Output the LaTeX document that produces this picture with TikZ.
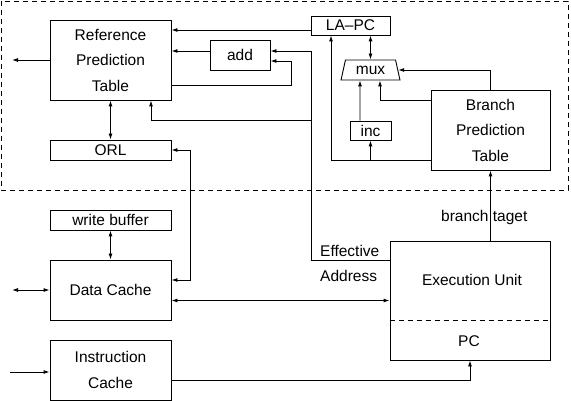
\documentclass[tikz,border=0pt]{standalone}
\usepackage{fontspec}
\setmainfont{Liberation Sans}
\usetikzlibrary{arrows.meta,shapes.geometric,calc}
\tikzset{
  box/.style={draw,line width=0.9pt,inner sep=0pt,align=center,font=\fontsize{15.5}{25.5}\selectfont},
  lbl/.style={inner sep=0pt,font=\fontsize{15.5}{25.5}\selectfont},
  wire/.style={line width=0.9pt},
  arr/.style={wire,-{Latex[length=6pt,width=4pt]}},
  arrr/.style={wire,{Latex[length=6pt,width=4pt]}-{Latex[length=6pt,width=4pt]}},
  dsh/.style={wire,dash pattern=on 5pt off 4pt},
}
\begin{document}
\begin{tikzpicture}[x=1pt,y=-1pt]
\useasboundingbox (0,0) rectangle (571,401);
% dashed region
\draw[dsh] (1,1) rectangle (568,190);
% boxes
\node[box,minimum width=121,minimum height=80] (rpt) at (110.5,60) {Reference\\Prediction\\Table};
\node[box,minimum width=60,minimum height=30] (add) at (240,55) {add};
\node[box,minimum width=79,minimum height=19] (la) at (350.5,25.5) {LA--PC};
\node[box,trapezium,trapezium stretches=true,trapezium left angle=73,trapezium right angle=73,minimum width=59,minimum height=20] (mux) at (370.5,70) {mux};
\node[box,minimum width=41,minimum height=19] (inc) at (370.5,130.5) {inc};
\node[box,minimum width=119,minimum height=80] (bpt) at (490.5,130) {Branch\\Prediction\\Table};
\node[box,minimum width=121,minimum height=20] (orl) at (110.5,150) {ORL};
\node[box,minimum width=121,minimum height=20] (wb) at (110.5,220) {write buffer};
\node[box,minimum width=121,minimum height=60] (dc) at (110.5,290) {Data Cache};
\node[box,minimum width=121,minimum height=60] (ic) at (110.5,370) {Instruction\\Cache};
\node[box,minimum width=160,minimum height=119] (eu) at (470,300.5) {};
\node[lbl] (eut) at (472,280) {Execution Unit};
\node[lbl] (pc) at (469,341) {PC};
\draw[dsh] (eu.west |- 0,320) -- (eu.east |- 0,320);
\node[lbl,anchor=west] (eff) at (320,251) {Effective};
\node[lbl,anchor=west] (addr) at (320,276) {Address};
\node[lbl,anchor=west] (bt) at (441,217) {branch taget};
% connectors
\coordinate (outL) at (12,60);
\draw[arr] (rpt.west) -- (outL);
\draw[arr] (la.west |- 0,30) -- (rpt.east |- 0,30);
\draw[arr] (add.west |- 0,51) -- (rpt.east |- 0,51);
\coordinate (j1) at (311,51);
\coordinate (j2) at (311,120);
\draw[arr] (eu.west |- 0,260) -| (j1) -- (add.east |- 0,51);
\draw[arr] (j2) -| ($(rpt.south)+(40.5,0)$);
\coordinate (j3) at (291,61);
\draw[arr] (rpt.east |- 0,85) -| (j3) -- (add.east |- 0,61);
\draw[arrr] (rpt.south) -- (orl.north);
\draw[arrr] (orl.east) -- ++(19,0) |- (dc.east |- 0,280);
\draw[arrr] (wb.south) -- (dc.north);
\coordinate (dcL) at (12,290);
\draw[arrr] (dc.west) -- (dcL);
\draw[arrr] (dc.east |- eu.west) -- (eu.west);
\coordinate (icL) at (10,372);
\draw[arr] (icL) -- (ic.west |- icL);
\draw[arr] (ic.east |- 0,380) -| (eu.south);
\draw[arr] (bpt.south |- eu.north) -- (bpt.south);
\draw[arrr] (mux.north |- la.south) -- (mux.north);
\draw[arr] (bpt.west |- 0,160) -| ($(la.south)+(-19.5,0)$);
\draw[arr] (inc.south |- 0,160) -- (inc.south);
\draw[arr] ($(inc.north)+(-10.5,0)$) -- ($(mux.south)+(-10.5,0)$);
\draw[arr] (bpt.west |- 0,100) -| ($(mux.south)+(9.5,0)$);
\draw[arr] (bpt.north) |- (mux.east);
\end{tikzpicture}
\end{document}
